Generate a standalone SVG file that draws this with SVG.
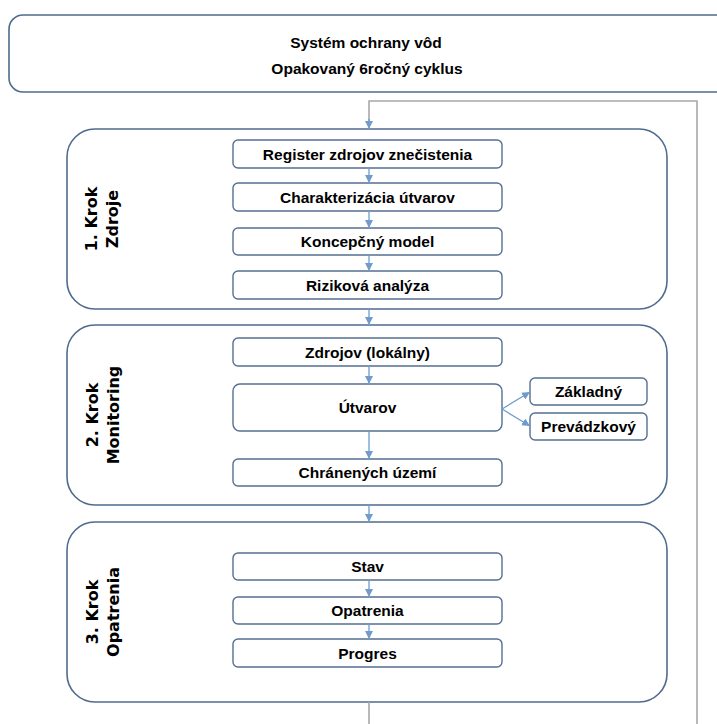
<svg xmlns="http://www.w3.org/2000/svg" width="717" height="724" viewBox="0 0 717 724">
<defs>
<marker id="ah" viewBox="0 0 10 10" refX="10" refY="5" markerWidth="8" markerHeight="8" markerUnits="userSpaceOnUse" orient="auto">
<path d="M0,0 L10,5 L0,10 z" fill="#6f9ccc"/>
</marker>
<style>
.outer{fill:#fff;stroke:#4f6b8d;stroke-width:1.6}
.inner{fill:#fff;stroke:#566f90;stroke-width:1.4}
.t{font-family:"Liberation Sans",Arial,sans-serif;font-weight:bold;font-size:15.5px;fill:#000;text-anchor:middle}
.lab{font-family:"DejaVu Sans",Verdana,sans-serif;font-weight:bold;font-size:16px;fill:#000;text-anchor:middle}
.c{fill:none;stroke:#6f9ccc;stroke-width:1.3}
.loop{fill:none;stroke:#a8a8a8;stroke-width:1.6}
</style>
</defs>
<rect width="717" height="724" fill="#fff"/>

<g id="header">
<rect class="outer" x="9" y="15" width="730" height="77" rx="14"/>
<text class="t" x="366" y="48">Systém ochrany vôd</text>
<text class="t" x="367" y="74">Opakovaný 6ročný cyklus</text>
</g>

<g id="step1">
<rect class="outer" x="67" y="129" width="600" height="180" rx="28"/>
<text class="lab" transform="translate(97,219) rotate(-90)">1. Krok</text>
<text class="lab" transform="translate(118,219) rotate(-90)">Zdroje</text>
</g>
<g id="register"><rect class="inner" x="233" y="140" width="269" height="28" rx="5"/><text class="t" x="367.5" y="160">Register zdrojov znečistenia</text></g>
<g id="charakterizacia"><rect class="inner" x="233" y="183" width="269" height="28" rx="5"/><text class="t" x="367.5" y="203">Charakterizácia  útvarov</text></g>
<g id="koncepcny"><rect class="inner" x="233" y="228" width="269" height="27" rx="5"/><text class="t" x="367.5" y="247">Koncepčný model</text></g>
<g id="rizikova"><rect class="inner" x="233" y="271" width="269" height="28" rx="5"/><text class="t" x="367.5" y="291">Riziková analýza</text></g>

<g id="step2">
<rect class="outer" x="67" y="325" width="600" height="180" rx="28"/>
<text class="lab" transform="translate(98,415) rotate(-90)">2. Krok</text>
<text class="lab" transform="translate(119,415) rotate(-90)">Monitoring</text>
</g>
<g id="zdrojov"><rect class="inner" x="233" y="338" width="269" height="28" rx="5"/><text class="t" x="367.5" y="358">Zdrojov (lokálny)</text></g>
<g id="utvarov"><rect class="inner" x="233" y="384" width="269" height="47" rx="7"/><text class="t" x="367.5" y="413">Útvarov</text></g>
<g id="chranenych"><rect class="inner" x="233" y="459" width="269" height="27" rx="5"/><text class="t" x="367.5" y="478">Chránených území</text></g>
<g id="zakladny"><rect class="inner" x="530" y="378" width="117" height="27" rx="5"/><text class="t" x="588.5" y="397">Základný</text></g>
<g id="prevadzkovy"><rect class="inner" x="530" y="413" width="117" height="27" rx="5"/><text class="t" x="588.5" y="432">Prevádzkový</text></g>

<g id="step3">
<rect class="outer" x="67" y="522" width="600" height="180" rx="28"/>
<text class="lab" transform="translate(98,612) rotate(-90)">3. Krok</text>
<text class="lab" transform="translate(119,612) rotate(-90)">Opatrenia</text>
</g>
<g id="stav"><rect class="inner" x="233" y="553" width="269" height="27" rx="5"/><text class="t" x="367.5" y="572">Stav</text></g>
<g id="opatrenia"><rect class="inner" x="233" y="597" width="269" height="27" rx="5"/><text class="t" x="367.5" y="616">Opatrenia</text></g>
<g id="progres"><rect class="inner" x="233" y="639" width="269" height="28" rx="5"/><text class="t" x="367.5" y="659">Progres</text></g>

<g id="connectors">
<path class="loop" d="M369,702 V724"/>
<path class="loop" d="M697,724 V101 H369 V121"/>
<path class="c" d="M369,119 V129" marker-end="url(#ah)"/>
<path class="c" d="M369,168 V183" marker-end="url(#ah)"/>
<path class="c" d="M369,211 V228" marker-end="url(#ah)"/>
<path class="c" d="M369,255 V271" marker-end="url(#ah)"/>
<path class="c" d="M369,309 V325" marker-end="url(#ah)"/>
<path class="c" d="M369,366 V384" marker-end="url(#ah)"/>
<path class="c" d="M369,431 V459" marker-end="url(#ah)"/>
<path class="c" d="M502,409 L530,392" marker-end="url(#ah)"/>
<path class="c" d="M502,409 L530,426" marker-end="url(#ah)"/>
<path class="c" d="M369,505 V522" marker-end="url(#ah)"/>
<path class="c" d="M369,580 V597" marker-end="url(#ah)"/>
<path class="c" d="M369,624 V639" marker-end="url(#ah)"/>
</g>
</svg>
